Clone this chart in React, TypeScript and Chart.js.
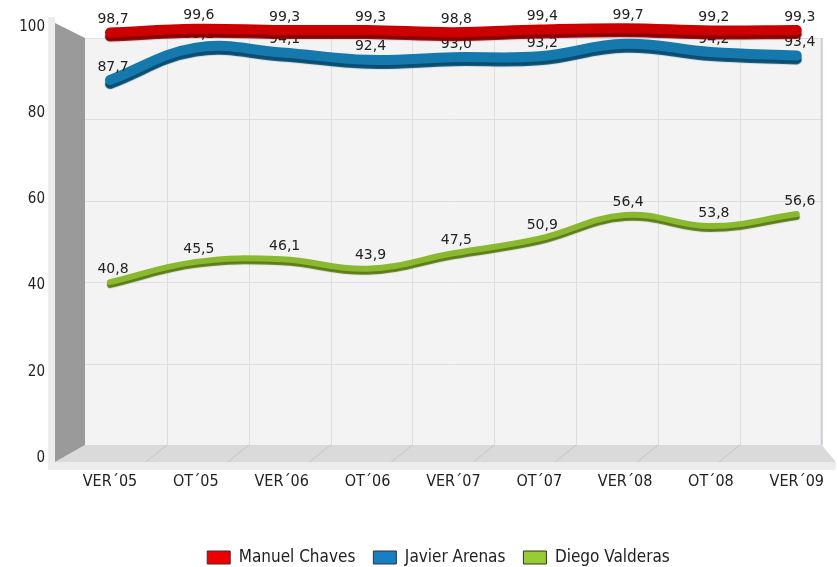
import React, { useEffect, useRef } from "react";
import { Chart, registerables } from "chart.js";

Chart.register(...registerables);

const categories = ["VER´05", "OT´05", "VER´06", "OT´06", "VER´07", "OT´07", "VER´08", "OT´08", "VER´09"];
const manuelChaves = [98.7, 99.6, 99.3, 99.3, 98.8, 99.4, 99.7, 99.2, 99.3];
const javierArenas = [87.7, 95.2, 94.1, 92.4, 93.0, 93.2, 96.1, 94.2, 93.4];
const diegoValderas = [40.8, 45.5, 46.1, 43.9, 47.5, 50.9, 56.4, 53.8, 56.6];
const seriesNames = ["Manuel Chaves", "Javier Arenas", "Diego Valderas"];
const yTicks = [0, 20, 40, 60, 80, 100];

const lineColors = ["#cc0000", "#1579ad", "#8ab82f"];
const shadowColors = ["#8a0000", "#0a4f73", "#5c7d1a"];
const legendFill = ["#ee0000", "#1a7fc0", "#99cc33"];
const lineWidths = [10, 10, 6];
const shadowOffsets = [4, 4, 3];

const fmt = (v: number) => v.toFixed(1).replace(".", ",");

const wallsPlugin = {
  id: "walls",
  afterLayout(chart: any) {
    const lg = chart.legend;
    if (lg) {
      lg.left += 40;
      lg.right += 40;
      lg.top += 9;
      lg.bottom += 9;
    }
  },
  beforeDraw(chart: any) {
    const { ctx, chartArea } = chart;
    const { left: l, right: r, top: t, bottom: b } = chartArea;
    const y = chart.scales.y;
    const fl = l - 55, bl = l - 25, br = r + 25, bt = t + 11, bb = b - 13, fb = b + 4;
    ctx.save();
    ctx.fillStyle = "#ececec";
    ctx.fillRect(fl - 7, t - 10, 7, fb - t + 18);
    ctx.fillRect(fl - 7, fb, br + 14 - (fl - 7), 8);
    ctx.fillStyle = "#f3f3f3";
    ctx.fillRect(bl, bt, br - bl, bb - bt);
    const n = chart.data.labels.length;
    const colW = (br - bl) / n;
    ctx.strokeStyle = "#dedede";
    ctx.lineWidth = 1;
    ctx.beginPath();
    for (let k = 1; k < n; k++) {
      const x = Math.round(bl + k * colW) + 0.5;
      ctx.moveTo(x, bt);
      ctx.lineTo(x, bb);
    }
    y.ticks.forEach((tk: any) => {
      if (tk.value <= 0 || tk.value >= 100) return;
      const fy = y.getPixelForValue(tk.value);
      const by = Math.round(bb - ((b - fy) * (bb - bt)) / (b - t)) + 0.5;
      ctx.moveTo(bl, by);
      ctx.lineTo(br, by);
    });
    ctx.stroke();
    ctx.strokeStyle = "#dde0e8";
    ctx.beginPath();
    ctx.moveTo(bl, bt + 0.5);
    ctx.lineTo(br, bt + 0.5);
    ctx.stroke();
    ctx.strokeStyle = "#c9cdd8";
    ctx.lineWidth = 2;
    ctx.beginPath();
    ctx.moveTo(br, bt);
    ctx.lineTo(br, bb);
    ctx.stroke();
    ctx.fillStyle = "#dadada";
    ctx.beginPath();
    ctx.moveTo(fl, fb);
    ctx.lineTo(bl, bb);
    ctx.lineTo(br, bb);
    ctx.lineTo(br + 14, fb);
    ctx.closePath();
    ctx.fill();
    ctx.strokeStyle = "#c6c6c6";
    ctx.lineWidth = 1;
    ctx.beginPath();
    for (let k = 1; k < n; k++) {
      const x = bl + k * colW;
      ctx.moveTo(x, bb);
      ctx.lineTo(x - 21, fb);
    }
    ctx.stroke();
    ctx.fillStyle = "#9a9a9a";
    ctx.beginPath();
    ctx.moveTo(fl, t - 4);
    ctx.lineTo(bl, bt);
    ctx.lineTo(bl, bb);
    ctx.lineTo(fl, fb);
    ctx.closePath();
    ctx.fill();
    ctx.restore();
  },
  beforeDatasetDraw(chart: any, args: any) {
    const ctx = chart.ctx;
    const i = args.index;
    ctx.save();
    ctx.shadowColor = shadowColors[i];
    ctx.shadowOffsetX = 0;
    ctx.shadowOffsetY = shadowOffsets[i];
    ctx.shadowBlur = 1;
  },
  afterDatasetDraw(chart: any, args: any) {
    const ctx = chart.ctx;
    ctx.restore();
    const ds = chart.data.datasets[args.index];
    ctx.save();
    ctx.font = '14px "DejaVu Sans"';
    ctx.fillStyle = "#222222";
    ctx.textAlign = "center";
    ctx.textBaseline = "middle";
    args.meta.data.forEach((p: any, j: number) => {
      ctx.fillText(fmt(ds.data[j]), p.x + 3, p.y - 13);
    });
    ctx.restore();
  },
};

export default function App() {
  const ref = useRef<HTMLCanvasElement | null>(null);
  useEffect(() => {
    if (!ref.current) return;
    const values = [manuelChaves, javierArenas, diegoValderas];
    const chart = new Chart(ref.current, {
      type: "line",
      data: {
        labels: categories,
        datasets: values.map((d, i) => ({
          label: seriesNames[i],
          data: d,
          borderColor: lineColors[i],
          backgroundColor: legendFill[i],
          borderWidth: lineWidths[i],
          borderCapStyle: "round",
          borderJoinStyle: "round",
          pointRadius: 0,
          pointHoverRadius: 0,
          tension: 0.4,
          clip: false,
          fill: false,
        })) as any,
      },
      options: {
        responsive: false,
        animation: false,
        layout: { padding: { top: 27, right: 41, left: 0, bottom: 0 } },
        scales: {
          x: {
            offset: false,
            grid: { display: false, drawTicks: false },
            border: { display: false },
            ticks: {
              padding: 14,
              color: "#222222",
              font: { family: "DejaVu Sans Condensed", size: 16 },
              maxRotation: 0,
              autoSkip: false,
            },
            afterFit: (s: any) => {
              s.height = 64;
            },
          },
          y: {
            min: 0,
            max: 100,
            afterBuildTicks: (s: any) => {
              s.ticks = yTicks.map((v) => ({ value: v }));
            },
            grid: { display: false, drawTicks: false },
            border: { display: false },
            ticks: {
              padding: 65,
              color: "#222222",
              font: { family: "DejaVu Sans Condensed", size: 15 },
            },
            afterFit: (s: any) => {
              s.width = 110;
              s.paddingTop = 8;
              s.paddingBottom = 8;
            },
          },
        },
        plugins: {
          tooltip: { enabled: false },
          legend: {
            position: "bottom",
            labels: {
              boxWidth: 23,
              boxHeight: 13,
              padding: 18,
              color: "#222222",
              font: { family: "DejaVu Sans Condensed", size: 17 },
              generateLabels: (c: any) => {
                const items = (Chart.defaults.plugins.legend.labels as any).generateLabels(c);
                items.forEach((it: any, i: number) => {
                  it.fillStyle = legendFill[i];
                  it.strokeStyle = "#333333";
                  it.lineWidth = 1;
                  it.lineCap = "butt";
                  it.lineJoin = "miter";
                  it.lineDash = [];
                });
                return items;
              },
            },
          },
        },
      },
      plugins: [wallsPlugin],
    });
    return () => chart.destroy();
  }, []);
  return (
    <div style={{ position: "fixed", left: 0, top: 0, width: 838, height: 567, background: "#ffffff" }}>
      <canvas ref={ref} width={838} height={567} style={{ display: "block" }} />
    </div>
  );
}
